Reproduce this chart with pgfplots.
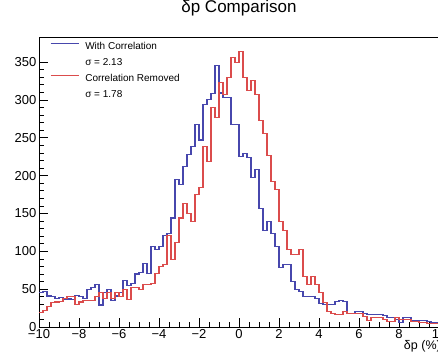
\documentclass[border=0pt]{standalone}
\usepackage{fontspec}
\setmainfont{Liberation Sans}
\usepackage{pgfplots}
\pgfplotsset{compat=1.18}
\usepackage{pgfplotstable}
\definecolor{rootblue}{rgb}{0.28,0.28,0.68}
\definecolor{rootred}{rgb}{0.86,0.30,0.30}

\pgfplotstableread{
x y
-10.0 45
-9.8 47
-9.6 41
-9.4 40
-9.2 38
-9.0 39
-8.8 37
-8.6 37
-8.4 36
-8.2 42
-8.0 40
-7.8 38
-7.6 50
-7.4 52
-7.2 56
-7.0 29
-6.8 45
-6.6 50
-6.4 35
-6.2 41
-6.0 45
-5.8 62
-5.6 55
-5.4 57
-5.2 70
-5.0 72
-4.8 84
-4.6 71
-4.4 106
-4.2 102
-4.0 106
-3.8 121
-3.6 124
-3.4 144
-3.2 195
-3.0 188
-2.8 212
-2.6 228
-2.4 238
-2.2 268
-2.0 247
-1.8 294
-1.6 300
-1.4 308
-1.2 345
-1.0 309
-0.8 303
-0.6 303
-0.4 267
-0.2 267
0.0 225
0.2 229
0.4 224
0.6 197
0.8 208
1.0 157
1.2 128
1.4 139
1.6 124
1.8 106
2.0 78
2.2 82
2.4 82
2.6 60
2.8 49
3.0 47
3.2 40
3.4 40
3.6 40
3.8 38
4.0 31
4.2 30
4.4 30
4.6 30
4.8 34
5.0 35
5.2 34
5.4 18
5.6 18
5.8 20
6.0 20
6.2 18
6.4 17
6.6 16
6.8 16
7.0 16
7.2 15
7.4 12
7.6 12
7.8 10
8.0 6
8.2 13
8.4 12
8.6 9
8.8 9
9.0 8
9.2 8
9.4 7
9.6 6
9.8 6
10.0 6
}\withcorr

\pgfplotstableread{
x y
-10.0 19
-9.8 22
-9.6 27
-9.4 32
-9.2 33
-9.0 34
-8.8 38
-8.6 40
-8.4 40
-8.2 30
-8.0 33
-7.8 35
-7.6 35
-7.4 35
-7.2 40
-7.0 45
-6.8 38
-6.6 46
-6.4 38
-6.2 45
-6.0 40
-5.8 50
-5.6 36
-5.4 52
-5.2 52
-5.0 50
-4.8 56
-4.6 56
-4.4 58
-4.2 71
-4.0 80
-3.8 82
-3.6 121
-3.4 89
-3.2 111
-3.0 144
-2.8 163
-2.6 150
-2.4 139
-2.2 175
-2.0 184
-1.8 238
-1.6 218
-1.4 290
-1.2 277
-1.0 323
-0.8 307
-0.6 329
-0.4 356
-0.2 349
0.0 364
0.2 329
0.4 312
0.6 325
0.8 307
1.0 273
1.2 256
1.4 227
1.6 192
1.8 181
2.0 139
2.2 128
2.4 102
2.6 96
2.8 96
3.0 102
3.2 67
3.4 56
3.6 67
3.8 56
4.0 45
4.2 32
4.4 20
4.6 18
4.8 16
5.0 16
5.2 20
5.4 18
5.6 18
5.8 18
6.0 18
6.2 14
6.4 9
6.6 12
6.8 12
7.0 12
7.2 10
7.4 7
7.6 7
7.8 12
8.0 10
8.2 10
8.4 10
8.6 7
8.8 7
9.0 6
9.2 6
9.4 5
9.6 5
9.8 5
10.0 5
}\corrremoved

\begin{document}
\begin{tikzpicture}
\begin{axis}[
  at={(0pt,0pt)}, anchor=south west,
  scale only axis, width=400pt, height=290pt,
  xmin=-10, xmax=10, ymin=0, ymax=383,
  axis line style={line width=0.7pt},
  tick align=inside, tick pos=left,
  xtick={-10,-8,-6,-4,-2,0,2,4,6,8,10},
  xticklabels={−10,−8,−6,−4,−2,0,2,4,6,8,10},
  minor x tick num=3,
  ytick={0,50,100,150,200,250,300,350},
  minor y tick num=4,
  major tick length=9pt, minor tick length=4.5pt,
  tick style={black, line width=0.6pt},
  /pgf/number format/assume math mode=true,
  ticklabel style={font=\fontsize{13pt}{15pt}\selectfont},
  xticklabel style={inner sep=1pt, yshift=-1pt},
  yticklabel style={inner sep=2.5pt},
  xlabel={δp (\%)},
  xlabel style={at={(rel axis cs:1,0)}, anchor=north east, inner sep=0pt,
    yshift=-13pt, xshift=2pt, font=\fontsize{12.5pt}{14pt}\selectfont},
  title={δp Comparison},
  title style={at={(rel axis cs:0.5,1)}, anchor=base, yshift=18pt, inner sep=0pt,
    font=\fontsize{17pt}{20pt}\selectfont},
  legend cell align=left,
  legend style={at={(axis description cs:0.0275,0.981)}, anchor=north west,
    draw=none, fill=none, inner sep=0pt, row sep=6.8pt, column sep=6pt,
    font=\fontsize{10pt}{12pt}\selectfont,
    nodes={inner sep=0pt, text height=7pt, text depth=2pt}},
]
\addplot[const plot, draw=rootblue, line width=1.1pt,
  legend image code/.code={\path (0pt,0pt); \draw[draw=rootblue, line width=1.1pt] (0pt,3.5pt) -- (28pt,3.5pt);}]
  table[x=x, y=y] {\withcorr};
\addlegendentry{With Correlation}
\addlegendimage{empty legend}
\addlegendentry{σ = 2.13}
\addplot[const plot, draw=rootred, line width=1.1pt,
  legend image code/.code={\path (0pt,0pt); \draw[draw=rootred, line width=1.1pt] (0pt,3.5pt) -- (28pt,3.5pt);}]
  table[x=x, y=y] {\corrremoved};
\addlegendentry{Correlation Removed}
\addlegendimage{empty legend}
\addlegendentry{σ = 1.78}
\end{axis}
\pgfresetboundingbox
\useasboundingbox (-39pt,-28pt) rectangle (399pt,327pt);
\end{tikzpicture}
\end{document}
